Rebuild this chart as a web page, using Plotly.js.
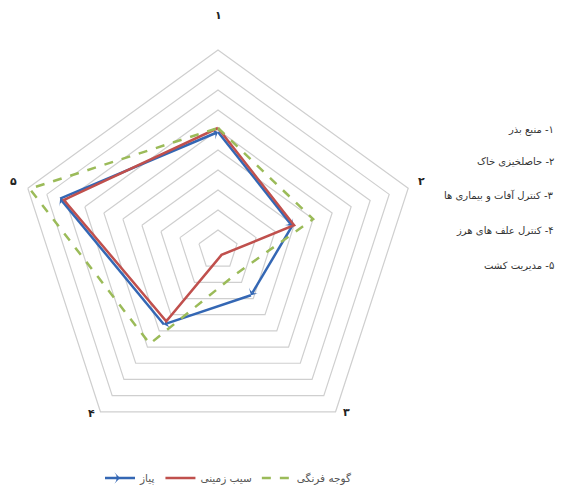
<!DOCTYPE html>
<html>
<head>
<meta charset="utf-8">
<script src="https://cdn.plot.ly/plotly-3.0.1.min.js"></script>
<style>html,body{margin:0;padding:0;background:#fff;}#chart{width:585px;height:499px;}</style>
</head>
<body>
<div id="chart"></div>
<script>
// Axis categories (Persian digits)
const categories = ['۱', '۲', '۳', '۴', '۵'];
// Series names
const seriesNames = ['پیاز', 'سیب زمینی', 'گوجه فرنگی'];
// Values (scale 0-10)
const onion  = [5.9, 3.9, 2.8, 4.6, 8.3];
const potato = [6.1, 4.0, 0.3, 4.4, 8.1];
const tomato = [6.1, 5.0, 1.5, 5.8, 9.9];
// Legend list of criteria on the right
const criteria = [
  '۱- منبع بذر',
  '۲- حاصلخیزی خاک',
  '۳- کنترل آفات و بیماری ها',
  '۴- کنترل علف های هرز',
  '۵- مدیریت کشت'
];

const W = 585, H = 499;
const close = a => a.concat([a[0]]);
const theta = close(categories);

const traces = [
  {type: 'scatterpolar', name: seriesNames[0], r: close(onion), theta: theta,
   mode: 'lines+markers',
   line: {color: '#3467b4', width: 2.5},
   marker: {symbol: 'arrow-wide', size: 8, color: '#3467b4', angleref: 'previous'}},
  {type: 'scatterpolar', name: seriesNames[1], r: close(potato), theta: theta,
   mode: 'lines', line: {color: '#c0504d', width: 2.5}},
  {type: 'scatterpolar', name: seriesNames[2], r: close(tomato), theta: theta,
   mode: 'lines', line: {color: '#9bbb59', width: 2.5, dash: 'dash'}}
];

// pixel helpers -> paper coords
const px = x => x / W;
const py = y => 1 - y / H;

const annotations = [];
const labelPos = [[218, 15], [421, 181], [346, 412], [91, 413], [13, 181]];
categories.forEach((c, i) => {
  annotations.push({xref: 'paper', yref: 'paper', x: px(labelPos[i][0]), y: py(labelPos[i][1]),
    text: '<b>' + c + '</b>', showarrow: false, xanchor: 'center', yanchor: 'middle',
    font: {family: 'DejaVu Sans', size: 11, color: '#222'}});
});
const critY = [130, 161, 196, 230, 265];
criteria.forEach((t, i) => {
  annotations.push({xref: 'paper', yref: 'paper', x: px(556), y: py(critY[i]),
    text: '\u200F' + t, showarrow: false, xanchor: 'right', yanchor: 'middle',
    font: {family: 'DejaVu Sans', size: 10, color: '#333'}});
});

const layout = {
  width: W, height: H,
  margin: {l: 0, r: 0, t: 0, b: 0},
  paper_bgcolor: '#fff',
  showlegend: true,
  legend: {orientation: 'h', x: px(100), y: py(478), xanchor: 'left', yanchor: 'middle',
    font: {family: 'DejaVu Sans', size: 10.5, color: '#555'}, itemwidth: 30, bgcolor: 'rgba(0,0,0,0)'},
  polar: {
    domain: {x: [px(18), px(418)], y: [py(450), py(50)]},
    bgcolor: '#fff',
    gridshape: 'linear',
    radialaxis: {range: [0, 10], dtick: 1, showticklabels: false, ticks: '', showline: false,
      gridcolor: '#cfcfcf', gridwidth: 1.2},
    angularaxis: {type: 'category', categoryarray: categories, rotation: 90, direction: 'clockwise',
      showticklabels: false, ticks: '', showgrid: false, showline: true,
      linecolor: '#cfcfcf', linewidth: 1.2}
  },
  annotations: annotations
};

Plotly.newPlot('chart', traces, layout, {displayModeBar: false, staticPlot: true});
</script>
</body>
</html>
